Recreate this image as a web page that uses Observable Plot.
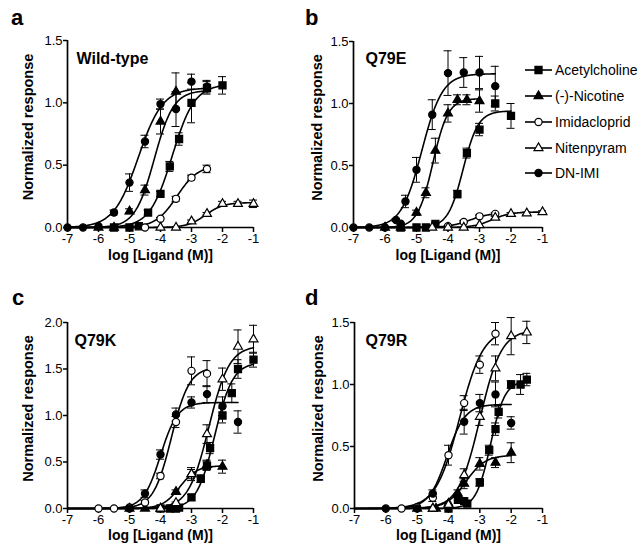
<!DOCTYPE html>
<html><head><meta charset="utf-8">
<script src="https://cdn.jsdelivr.net/npm/d3@7"></script>
<script src="https://cdn.jsdelivr.net/npm/@observablehq/plot@0.6"></script>
<style>
body{margin:0;background:#fff;}
#wrap{position:relative;width:640px;height:558px;overflow:hidden;background:#fff;}
.panel{position:absolute;}
#over{position:absolute;left:0;top:0;}
</style></head><body><div id="wrap"></div>
<script>
// ---------- data ----------
const compounds = ["Acetylcholine", "(-)-Nicotine", "Imidacloprid", "Nitenpyram", "DN-IMI"];
const symbolNames = ["square", "triangle", "circle", "triangle", "circle"];
const symbolFilled = [true, true, false, false, true];
const xTicks = [-7, -6, -5, -4, -3, -2, -1];
const yTicksAB = [0, 0.5, 1.0, 1.5];
const yTicksC = [0, 0.5, 1.0, 1.5, 2.0];
const panelTitles = ["Wild-type", "Q79E", "Q79K", "Q79R"];
const panelLetters = ["a", "b", "c", "d"];

// points: [log conc, normalized response, error]
const wtAch = [[-5.5,0,0],[-5,0,0],[-4.7,0.01,0],[-4.4,0.12,0.02],[-4,0.27,0.02],[-3.7,0.49,0.04],[-3.4,0.71,0.05],[-3,1.0,0.16],[-2.5,1.12,0.05],[-2,1.14,0.07]];
const wtNic = [[-6,0,0],[-5.5,0,0],[-5,0.13,0.02],[-4.5,0.30,0.04],[-4,0.85,0.1],[-3.5,1.09,0.15]];
const wtImi = [[-4.5,0,0],[-4,0.07,0.01],[-3.5,0.23,0.02],[-3,0.40,0.02],[-2.5,0.47,0.03]];
const wtNit = [[-4,0,0],[-3.5,0,0],[-3,0.05,0.01],[-2.5,0.11,0.01],[-2,0.19,0.02],[-1.5,0.19,0.02],[-1,0.19,0.03]];
const wtDn  = [[-7,0,0],[-6.5,0,0],[-6,0.01,0],[-5.5,0.12,0.02],[-5,0.36,0.07],[-4.5,0.69,0.05],[-4,0.99,0.04],[-3.5,0.95,0.14],[-3,1.17,0.06],[-2.5,1.13,0.05]];

const eAch = [[-5.5,0,0],[-5,0,0],[-4.7,0,0],[-4.4,0.03,0],[-3.7,0.27,0.03],[-3.4,0.6,0.04],[-3,0.79,0.05],[-2.5,1.0,0.06],[-2,0.9,0.1]];
const eNic = [[-6,0,0],[-5.5,0,0],[-5,0.12,0.02],[-4.7,0.28,0.04],[-4.4,0.62,0.1],[-4,0.92,0.07],[-3.7,1.03,0.04],[-3.4,1.03,0.04],[-3,1.02,0.09]];
const eImi = [[-4,0.01,0],[-3.5,0.045,0.01],[-3,0.09,0.01],[-2.5,0.11,0.01]];
const eNit = [[-4.5,0,0],[-4,0,0],[-3.5,0,0],[-3,0.02,0],[-2.5,0.08,0.01],[-2,0.11,0.01],[-1.5,0.115,0.01],[-1,0.125,0.01]];
const eDn  = [[-7,0,0],[-6.5,0,0],[-6,0,0],[-5.65,0.06,0.01],[-5.5,0.03,0],[-5.35,0.21,0.05],[-5,0.465,0.1],[-4.5,0.91,0.12],[-4,1.245,0.18],[-3.5,1.25,0.12],[-3,1.25,0.13],[-2.5,1.14,0.16]];

const kAch = [[-4,0,0],[-3.7,0,0],[-3.5,0,0],[-3.4,0.01,0],[-3,0.12,0.03],[-2.7,0.32,0.04],[-2.5,0.46,0.05],[-2.4,0.65,0.06],[-2,1.0,0.08],[-1.7,1.24,0.1],[-1.5,1.5,0.1],[-1,1.6,0.08]];
const kNic = [[-5,0,0],[-4.5,0,0],[-4,0,0],[-3.5,0.18,0.02],[-3,0.37,0.07],[-2.5,0.47,0.05],[-2,0.45,0.07]];
const kImi = [[-6,0,0],[-5.5,0,0],[-5,0.01,0],[-4.5,0.065,0.02],[-4,0.35,0.03],[-3.5,0.93,0.06],[-3,1.48,0.15],[-2.5,1.45,0.14]];
const kNit = [[-4,0,0],[-3.5,0.06,0.01],[-3,0.37,0.05],[-2.5,0.80,0.1],[-2,1.39,0.12],[-1.5,1.74,0.18],[-1,1.82,0.15]];
const kDn  = [[-5,0,0],[-4.5,0.16,0.04],[-4,0.58,0.05],[-3.5,1.01,0.07],[-3,1.14,0.06],[-2.5,1.23,0.09],[-2,1.10,0.1],[-1.5,0.93,0.12]];

const rAch = [[-4,0,0],[-3.7,0.07,0],[-3.5,0.06,0],[-3.4,0.04,0],[-3,0.21,0.03],[-2.7,0.47,0.04],[-2.5,0.64,0.05],[-2.4,0.78,0.05],[-2,1.0,0.03],[-1.7,1.0,0.08],[-1.5,1.04,0.05]];
const rNic = [[-5,0,0],[-4.5,0,0],[-4.4,0,0],[-4,0.04,0],[-3.7,0.12,0.03],[-3.5,0.2,0.04],[-3,0.36,0.05],[-2.5,0.37,0.04],[-2,0.45,0.08]];
const rImi = [[-5.5,0,0],[-5,0.01,0],[-4.5,0.086,0.03],[-4,0.43,0.08],[-3.5,0.85,0.06],[-3,1.16,0.07],[-2.5,1.41,0.09]];
const rNit = [[-4.5,0,0],[-4,0.03,0],[-3.5,0.27,0.05],[-3,0.74,0.07],[-2.5,1.13,0.1],[-2,1.39,0.15],[-1.5,1.42,0.09]];
const rDn  = [[-6,0,0],[-5,0,0],[-4.5,0.12,0.03],[-3.5,0.70,0.1],[-3,0.85,0.07],[-2.5,0.92,0.1],[-2,0.69,0.05]];

// fitted curves: [top, logEC50, Hill slope, last x] in compound order
const wtFit = [[1.15,-3.62,1.2,-2],[1.1,-4.2,1.4,-2.5],[0.5,-3.47,1.27,-2.5],[0.2,-2.55,1.5,-1],[1.12,-4.72,1.1,-2.5]];
const eFit  = [[0.94,-3.52,1.8,-2],[1.04,-4.48,1.8,-3],[0.12,-3.3,1.3,-2.5],[0.125,-2.6,1.5,-1],[1.24,-4.83,1.33,-2.5]];
const kFit  = [[1.57,-2.25,1.5,-1],[0.46,-3.38,1.58,-2],[1.52,-3.65,1.5,-2.5],[1.75,-2.44,1.32,-1],[1.14,-4.0,1.57,-1.5]];
const rFit  = [[1.03,-2.66,1.89,-1.5],[0.43,-3.45,1.4,-2],[1.45,-3.65,1.15,-2.5],[1.44,-3.0,1.27,-1.5],[0.84,-4.05,1.5,-2]];

// ---------- drawing ----------
const FONT = "'Liberation Sans', Arial, Helvetica, sans-serif";
const wrap = document.getElementById("wrap");

function panel(cfg) {
  const pts = [];
  cfg.series.forEach((arr, i) => arr.forEach(([x, y, e]) => pts.push({x, y, e, i})));
  const curves = [];
  cfg.fits.forEach(([top, ec, n, xmax], i) => {
    const steps = Math.round((xmax + 7) / 0.02);
    for (let s = 0; s <= steps; s++) {
      const x = -7 + s * 0.02;
      curves.push({x, y: top / (1 + Math.pow(10, (ec - x) * n)), i});
    }
  });
  const errs = pts.filter(d => d.e > 0);
  const dotMarks = compounds.map((c, i) => Plot.dot(pts.filter(d => d.i === i), {
    x: "x", y: "y", symbol: symbolNames[i],
    r: symbolNames[i] === "square" ? 4 : symbolNames[i] === "triangle" ? 3.3 : 3.6,
    fill: symbolFilled[i] ? "#000" : "#fff", stroke: "#000", strokeWidth: 1.2
  }));
  const p = Plot.plot({
    width: 320, height: 279,
    marginLeft: cfg.mL, marginRight: cfg.mR, marginTop: cfg.mT, marginBottom: cfg.mB,
    x: {domain: [-7, -1]},
    y: {domain: [0, cfg.yMax]},
    style: {fontFamily: FONT, fontSize: "13px", color: "#000", background: "transparent", overflow: "visible"},
    marks: [
      Plot.axisX({ticks: xTicks, tickFormat: d => String(d), tickSize: 5, tickPadding: 1, label: null, fontSize: 13, strokeWidth: 1.5}),
      Plot.axisY({ticks: cfg.yTicks, tickFormat: d3.format(".1f"), tickSize: 4, tickPadding: 1, label: null, fontSize: 13, strokeWidth: 1.5}),
      Plot.ruleY([0], {stroke: "#000", strokeWidth: 1.7}),
      Plot.ruleX([-7], {stroke: "#000", strokeWidth: 1.7}),
      Plot.line(curves, {x: "x", y: "y", z: "i", stroke: "#000", strokeWidth: 1.6, curve: "linear"}),
      Plot.ruleX(errs, {x: "x", y1: d => d.y - d.e, y2: d => d.y + d.e, stroke: "#000", strokeWidth: 1}),
      Plot.ruleY(errs, {x1: "x", x2: "x", y: d => d.y + d.e, insetLeft: -4, insetRight: -4, stroke: "#000", strokeWidth: 1}),
      Plot.ruleY(errs, {x1: "x", x2: "x", y: d => d.y - d.e, insetLeft: -4, insetRight: -4, stroke: "#000", strokeWidth: 1}),
      ...dotMarks,
      Plot.text([cfg.title], {frameAnchor: "top-left", textAnchor: "start", lineAnchor: "middle", dx: cfg.tdx, dy: cfg.tdy, fontWeight: "bold", fontSize: 16, fill: "#000"}),
      Plot.text(["Normalized response"], {frameAnchor: "left", rotate: -90, textAnchor: "middle", lineAnchor: "middle", dx: cfg.ldx, dy: -7, fontWeight: "bold", fontSize: 14.5, fill: "#000"}),
      Plot.text(["log [Ligand (M)]"], {frameAnchor: "bottom", textAnchor: "middle", lineAnchor: "middle", dy: cfg.xdy, fontWeight: "bold", fontSize: 14, fill: "#000"})
    ]
  });
  const div = document.createElement("div");
  div.className = "panel";
  div.style.left = cfg.left + "px";
  div.style.top = cfg.top + "px";
  div.appendChild(p);
  wrap.appendChild(div);
}

panel({left: 0, top: 0, series: [wtAch, wtNic, wtImi, wtNit, wtDn], fits: wtFit, yMax: 1.5, yTicks: yTicksAB, title: panelTitles[0],
  mL: 67, mR: 67, mT: 40, mB: 52, tdx: 9, tdy: 18, ldx: -39, xdy: 28});
panel({left: 320, top: 0, series: [eAch, eNic, eImi, eNit, eDn], fits: eFit, yMax: 1.5, yTicks: yTicksAB, title: panelTitles[1],
  mL: 33, mR: 98, mT: 41, mB: 52, tdx: 12, tdy: 17, ldx: -36, xdy: 28});
panel({left: 0, top: 279, series: [kAch, kNic, kImi, kNit, kDn], fits: kFit, yMax: 2.0, yTicks: yTicksC, title: panelTitles[2],
  mL: 67, mR: 67, mT: 43, mB: 50, tdx: 7, tdy: 18, ldx: -39, xdy: 27.5});
panel({left: 320, top: 279, series: [rAch, rNic, rImi, rNit, rDn], fits: rFit, yMax: 1.5, yTicks: yTicksAB, title: panelTitles[3],
  mL: 34, mR: 98, mT: 43, mB: 50, tdx: 11, tdy: 18, ldx: -36, xdy: 27.5});

// overlay: panel letters and legend
const svg = d3.select(wrap).append("svg").attr("id", "over").attr("width", 640).attr("height", 558)
  .style("font-family", FONT).style("pointer-events", "none");
const letterPos = [[11, 25], [305, 25], [12, 305], [305, 305]];
panelLetters.forEach((l, i) => svg.append("text").attr("x", letterPos[i][0]).attr("y", letterPos[i][1])
  .attr("font-size", 22).attr("font-weight", "bold").attr("fill", "#000").text(l));

const legendY = [70, 96, 122, 148, 173];
compounds.forEach((c, i) => {
  const g = svg.append("g").attr("transform", `translate(0,${legendY[i]})`);
  g.append("line").attr("x1", 525).attr("x2", 552).attr("y1", 0).attr("y2", 0).attr("stroke", "#000").attr("stroke-width", 1.6);
  const r = symbolNames[i] === "square" ? 4 : symbolNames[i] === "triangle" ? 3.3 : 3.6;
  const type = symbolNames[i] === "square" ? d3.symbolSquare : symbolNames[i] === "triangle" ? d3.symbolTriangle : d3.symbolCircle;
  g.append("path").attr("transform", "translate(538.5,0)").attr("d", d3.symbol(type, Math.PI * r * r)())
    .attr("fill", symbolFilled[i] ? "#000" : "#fff").attr("stroke", "#000").attr("stroke-width", 1.2);
  g.append("text").attr("x", 555).attr("y", 5).attr("font-size", 14).attr("fill", "#000").text(c);
});
</script></body></html>
